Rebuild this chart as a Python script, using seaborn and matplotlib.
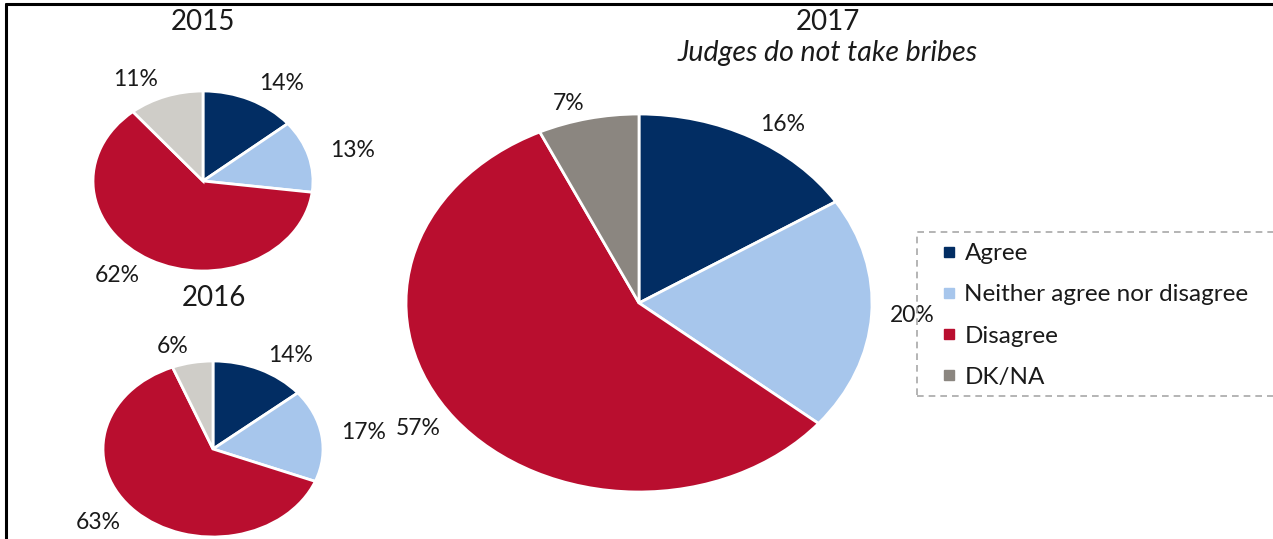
import matplotlib
matplotlib.use("Agg")
import matplotlib.pyplot as plt
import seaborn as sns
from matplotlib.lines import Line2D
from matplotlib.patches import Rectangle

sns.set_theme(style="white")
plt.rcParams["font.family"] = ["Lato", "DejaVu Sans"]
plt.rcParams["text.color"] = "#1a1a1a"

# Survey: "Judges do not take bribes"
categories = ["Agree", "Neither agree nor disagree", "Disagree", "DK/NA"]
shares_2015 = [14, 13, 62, 11]
shares_2016 = [14, 17, 63, 6]
shares_2017 = [16, 20, 57, 7]

colors_small = ["#022D63", "#A7C6EC", "#B90E2F", "#CFCDC8"]
colors_large = ["#022D63", "#A7C6EC", "#B90E2F", "#8B8680"]

W, H = 1273, 539
fig = plt.figure(figsize=(W / 100, H / 100), dpi=100)


def px_axes(x0, y0, x1, y1):
    """Axes spanning the pixel box (x0, y0)-(x1, y1), y measured from the top."""
    return fig.add_axes([x0 / W, 1 - y1 / H, (x1 - x0) / W, (y1 - y0) / H])


def draw_pie(ax, values, colors, dist):
    ax.pie(
        values,
        colors=colors,
        labels=[f"{v}%" for v in values],
        labeldistance=dist,
        startangle=90,
        counterclock=False,
        wedgeprops=dict(edgecolor="white", linewidth=2),
        textprops=dict(fontsize=16.5, color="#1a1a1a"),
    )
    ax.set_aspect("auto")
    ax.set_xlim(-1, 1)
    ax.set_ylim(-1, 1)
    ax.axis("off")


ax15 = px_axes(93, 91, 313, 271)
draw_pie(ax15, shares_2015, colors_small, 1.2)

ax16 = px_axes(103, 361, 323, 537)
draw_pie(ax16, shares_2016, colors_small, 1.18)

ax17 = px_axes(406, 114, 872, 492)
draw_pie(ax17, shares_2017, colors_large, 1.08)

# Titles
fig.text(203 / W, 1 - 22 / H, "2015", ha="center", va="center", fontsize=20)
fig.text(214 / W, 1 - 298 / H, "2016", ha="center", va="center", fontsize=20)
fig.text(828 / W, 1 - 22 / H, "2017", ha="center", va="center", fontsize=20)
fig.text(828 / W, 1 - 53 / H, "Judges do not take bribes", ha="center",
         va="center", fontsize=20.5, style="italic")

# Legend with dashed frame
fig.add_artist(Rectangle((917 / W, 1 - 396 / H), (W + 5 - 917) / W, 164 / H,
                         transform=fig.transFigure, fill=False,
                         edgecolor="#A8A8A8", linestyle=(0, (4, 3)),
                         linewidth=1.2))
handles = [Line2D([], [], marker="s", linestyle="none", markersize=7,
                  markerfacecolor=c, markeredgecolor=c) for c in colors_large]
fig.legend(handles, categories, loc="upper left",
           bbox_to_anchor=(928 / W, 1 - 231 / H), frameon=False,
           fontsize=17.5, handlelength=0.7, handletextpad=0.3,
           labelspacing=0.83, borderpad=0)

# Outer frame: top and left rules
fig.add_artist(Line2D([6 / W, 1], [1 - 4 / H, 1 - 4 / H],
                      transform=fig.transFigure, color="black", linewidth=2.2))
fig.add_artist(Line2D([6 / W, 6 / W], [0, 1 - 4 / H],
                      transform=fig.transFigure, color="black", linewidth=2.2))

fig.savefig("out.png", dpi=100, facecolor="white")
